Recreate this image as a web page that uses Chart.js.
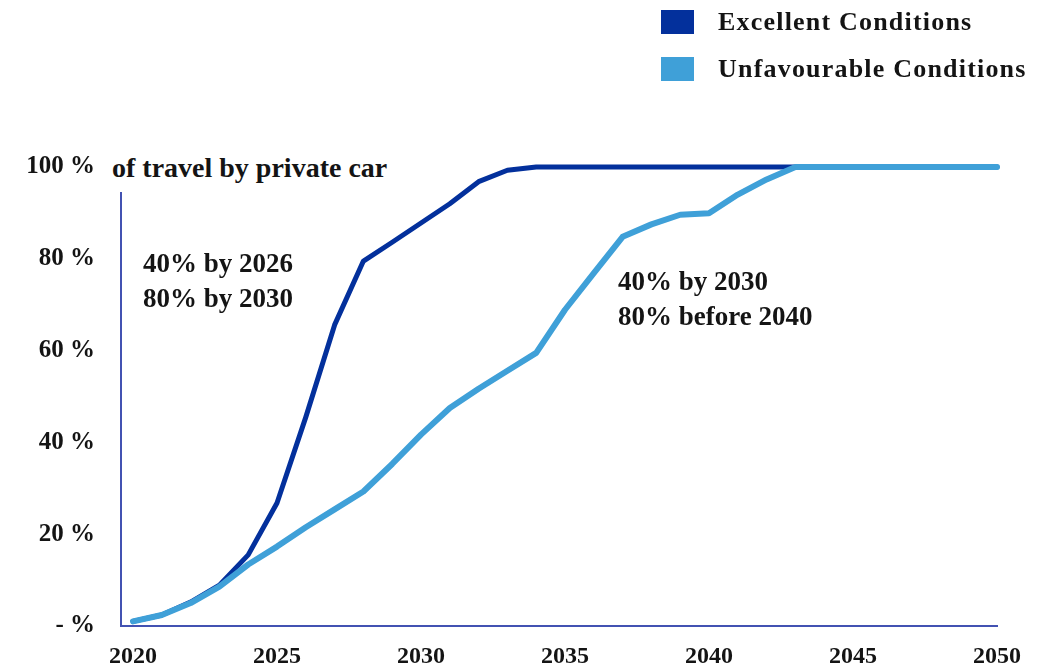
<!DOCTYPE html>
<html>
<head>
<meta charset="utf-8">
<script src="https://cdn.jsdelivr.net/npm/chart.js@4.4.1/dist/chart.umd.min.js"></script>
<style>
  html, body { margin: 0; padding: 0; background: #ffffff; }
  #wrap { position: relative; width: 1053px; height: 668px; overflow: hidden;
          font-family: "Liberation Serif", "Times New Roman", serif; font-weight: bold; color: #141414; }
  #c { position: absolute; left: 0; top: 0; }
  .ov { position: absolute; white-space: nowrap; }
  #title { left: 110px; top: 152px; height: 40px; line-height: 32px; font-size: 28px;
           background: #ffffff; padding: 0 4px 0 2px; }
  .ann { font-size: 27px; line-height: 35px; }
  .lg-item { position: absolute; left: 661px; height: 30px; }
  .lg-swatch { position: absolute; left: 0; width: 33px; height: 24px; }
  .lg-text { position: absolute; left: 57px; top: 0; font-size: 26px; line-height: 30px; letter-spacing: 1.2px; white-space: nowrap; }
</style>
</head>
<body>
<div id="wrap">
  <canvas id="c" width="1053" height="668" style="width:1053px;height:668px;"></canvas>
  <div id="legend"></div>
  <div class="ov" id="title">of travel by private car</div>
  <div class="ov ann" style="left:143px; top:246px;">40% by 2026<br>80% by 2030</div>
  <div class="ov ann" style="left:618px; top:264px;">40% by 2030<br>80% before 2040</div>
</div>
<script>
// ---- data ----
const years = [2020, 2021, 2022, 2023, 2024, 2025, 2026, 2027, 2028, 2029,
               2030, 2031, 2032, 2033, 2034, 2035, 2036, 2037, 2038, 2039,
               2040, 2041, 2042, 2043, 2044, 2045, 2046, 2047, 2048, 2049, 2050];
const excellent = [1.0, 2.4, 5.2, 8.9, 15.5, 26.8, 45.5, 65.6, 79.5, 83.6,
                   87.8, 92.0, 96.8, 99.3, 100, 100, 100, 100, 100, 100,
                   100, 100, 100, 100, 100, 100, 100, 100, 100, 100, 100];
const unfavourable = [1.0, 2.4, 5.0, 8.6, 13.4, 17.3, 21.5, 25.4, 29.3, 35.3,
                      41.7, 47.5, 51.7, 55.6, 59.5, 68.9, 76.9, 84.8, 87.5, 89.6,
                      89.9, 94.0, 97.3, 100, 100, 100, 100, 100, 100, 100, 100];
const seriesNames = ['Excellent Conditions', 'Unfavourable Conditions'];
const xTickValues = [2020, 2025, 2030, 2035, 2040, 2045, 2050];
const yTickValues = [0, 20, 40, 60, 80, 100];
const yTickLabels = ['- %', '20 %', '40 %', '60 %', '80 %', '100 %'];

// ---- styles ----
const darkBlue = '#03309C';
const lightBlue = '#3FA0D8';
const axisColor = '#4352B2';
const fontFamily = '"Liberation Serif", "Times New Roman", serif';
const textColor = '#141414';

// legend (HTML, built from series names)
const legendColors = [darkBlue, lightBlue];
const legendTops = [7, 54];
const legendEl = document.getElementById('legend');
seriesNames.forEach((name, i) => {
  const item = document.createElement('div');
  item.className = 'lg-item';
  item.style.top = legendTops[i] + 'px';
  const sw = document.createElement('div');
  sw.className = 'lg-swatch';
  sw.style.background = legendColors[i];
  sw.style.top = '3px';
  const tx = document.createElement('div');
  tx.className = 'lg-text';
  tx.textContent = name;
  item.appendChild(sw);
  item.appendChild(tx);
  legendEl.appendChild(item);
});

const toPoints = (vals) => years.map((yr, i) => ({ x: yr, y: vals[i] }));

new Chart(document.getElementById('c'), {
  type: 'line',
  data: {
    datasets: [
      { label: seriesNames[0], data: toPoints(excellent), borderColor: darkBlue, backgroundColor: darkBlue,
        borderWidth: 5, order: 1, clip: 10 },
      { label: seriesNames[1], data: toPoints(unfavourable), borderColor: lightBlue, backgroundColor: lightBlue,
        borderWidth: 6, order: 0, clip: 10 }
    ]
  },
  options: {
    responsive: false,
    animation: false,
    devicePixelRatio: 1,
    layout: { padding: { top: 167, right: 56, left: 0, bottom: 0 } },
    plugins: { legend: { display: false }, tooltip: { enabled: false } },
    elements: {
      point: { radius: 0, hoverRadius: 0 },
      line: { tension: 0, borderCapStyle: 'round', borderJoinStyle: 'round', fill: false }
    },
    scales: {
      x: {
        type: 'linear',
        min: 2019.583,
        max: 2050,
        afterBuildTicks: (s) => { s.ticks = xTickValues.map(v => ({ value: v })); },
        afterFit: (s) => { s.height = 42; },
        grid: { display: false, drawTicks: false },
        border: { display: true, color: axisColor, width: 2 },
        ticks: {
          padding: 16, color: textColor, autoSkip: false, maxRotation: 0, minRotation: 0,
          font: { family: fontFamily, size: 24, weight: 'bold' },
          callback: (v) => String(v)
        }
      },
      y: {
        min: 0,
        max: 100,
        afterBuildTicks: (s) => { s.ticks = yTickValues.map(v => ({ value: v })); },
        afterFit: (s) => { s.width = 121; },
        grid: { display: false, drawTicks: false },
        border: { display: true, color: axisColor, width: 2 },
        ticks: {
          padding: 26, color: textColor,
          font: { family: fontFamily, size: 25, weight: 'bold' },
          callback: (v) => { const k = yTickValues.indexOf(v); return k >= 0 ? yTickLabels[k] : ''; }
        }
      }
    }
  }
});
</script>
</body>
</html>
